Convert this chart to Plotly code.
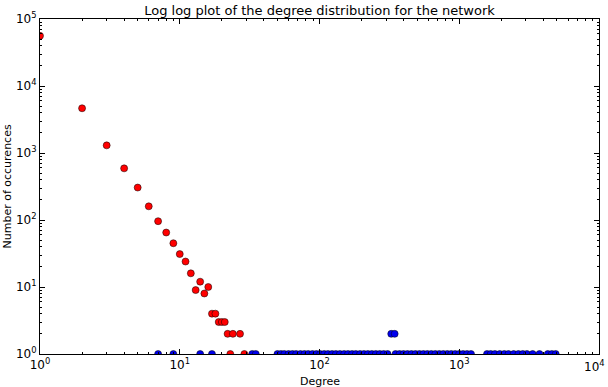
import plotly.graph_objects as go

# Red series: degree -> number of occurrences
red_degree = [1, 2, 3, 4, 5, 6, 7, 8, 9, 10, 11, 12, 13, 14, 15, 16, 17, 18,
              19, 20, 21, 22, 23, 24, 27, 29]
red_count = [56000, 4650, 1300, 590, 305, 160, 96, 65, 45, 31, 24, 16, 9, 12,
             8, 10, 4, 4, 3, 3, 3, 2, 1, 2, 2, 1]

# Blue series: degree -> number of occurrences
blue_degree = [7, 9, 14, 17, 33, 35,
               50, 53, 56, 60, 64, 68, 73, 78, 83, 89, 95, 101, 108, 115, 123,
               131, 140, 150, 160, 171, 182, 195, 208, 222, 237, 253, 270, 288,
               307, 326, 345, 350, 374, 399, 426, 455, 486, 519, 554, 591, 631,
               674, 720, 769, 821, 876, 935, 998, 1065, 1137, 1214,
               1580, 1680, 1800, 1950, 2100, 2250, 2450, 2650, 2850, 3050,
               3350, 3750, 4300, 4600, 4900]
blue_count = [1, 1, 1, 1, 1, 1,
              1, 1, 1, 1, 1, 1, 1, 1, 1, 1, 1, 1, 1, 1, 1,
              1, 1, 1, 1, 1, 1, 1, 1, 1, 1, 1, 1, 1,
              1, 2, 2, 1, 1, 1, 1, 1, 1, 1, 1, 1, 1,
              1, 1, 1, 1, 1, 1, 1, 1, 1, 1,
              1, 1, 1, 1, 1, 1, 1, 1, 1, 1,
              1, 1, 1, 1, 1]

x_tickvals = [1, 10, 100, 1000, 10000]
x_ticktext = ["10<sup>0</sup>", "10<sup>1</sup>", "10<sup>2</sup>", "10<sup>3</sup>", "10<sup>4</sup>"]
y_tickvals = [1, 10, 100, 1000, 10000, 100000]
y_ticktext = ["10<sup>0</sup>", "10<sup>1</sup>", "10<sup>2</sup>", "10<sup>3</sup>", "10<sup>4</sup>", "10<sup>5</sup>"]

W, H = 608, 387
L, R, T, B = 40, 9, 19, 33

fig = go.Figure()
fig.add_trace(go.Scatter(
    x=red_degree, y=red_count, mode="markers",
    marker=dict(color="#ff0000", size=7, line=dict(color="black", width=0.5)),
    showlegend=False))
fig.add_trace(go.Scatter(
    x=blue_degree, y=blue_count, mode="markers",
    marker=dict(color="#0000ee", size=7, line=dict(color="black", width=0.5)),
    showlegend=False))

tick_font = dict(family="DejaVu Sans", size=12, color="black")
axis_common = dict(
    type="log", showgrid=False, zeroline=False, automargin=False,
    showline=True, linecolor="black", linewidth=1, mirror="allticks",
    ticks="inside", ticklen=5, tickcolor="black", tickwidth=1,
    minor=dict(ticks="inside", ticklen=2, tickcolor="black", showgrid=False, dtick="D1"),
    tickfont=tick_font,
)

# the last x label sits on the paper edge, so it is drawn as an annotation
x_axis_text = x_ticktext[:-1] + [""]
fig.update_xaxes(**axis_common, range=[0, 4], tickvals=x_tickvals, ticktext=x_axis_text)
fig.update_yaxes(**axis_common, range=[0, 5], tickvals=y_tickvals, ticktext=y_ticktext)

plot_w = W - L - R
plot_h = H - T - B
fig.update_layout(
    width=W, height=H,
    margin=dict(l=L, r=R, t=T, b=B),
    paper_bgcolor="white", plot_bgcolor="white",
    title=dict(text="Log log plot of the degree distribution for the network",
               font=dict(family="DejaVu Sans", size=13, color="black"),
               x=(L + plot_w / 2) / W, xanchor="center", y=1 - 10 / H, yanchor="middle"),
    annotations=[
        dict(text="Degree", xref="paper", yref="paper", x=0.5, y=-(381 - (H - B)) / plot_h,
             xanchor="center", yanchor="middle", showarrow=False,
             font=dict(family="DejaVu Sans", size=11, color="black")),
        dict(text="Number of occurences", xref="paper", yref="paper",
             x=-(L - 7) / plot_w, y=0.5, xanchor="center", yanchor="middle",
             textangle=-90, showarrow=False,
             font=dict(family="DejaVu Sans", size=11, color="black")),
        dict(text=x_ticktext[-1], xref="x", yref="paper", x=4, y=-(366 - (H - B)) / plot_h,
             xanchor="right", xshift=7, yanchor="middle", showarrow=False,
             font=tick_font, borderpad=0),
    ],
)

fig.write_html("out.html", config={"displayModeBar": False},
               post_script="document.body.style.margin='0';document.body.style.overflow='hidden';")
